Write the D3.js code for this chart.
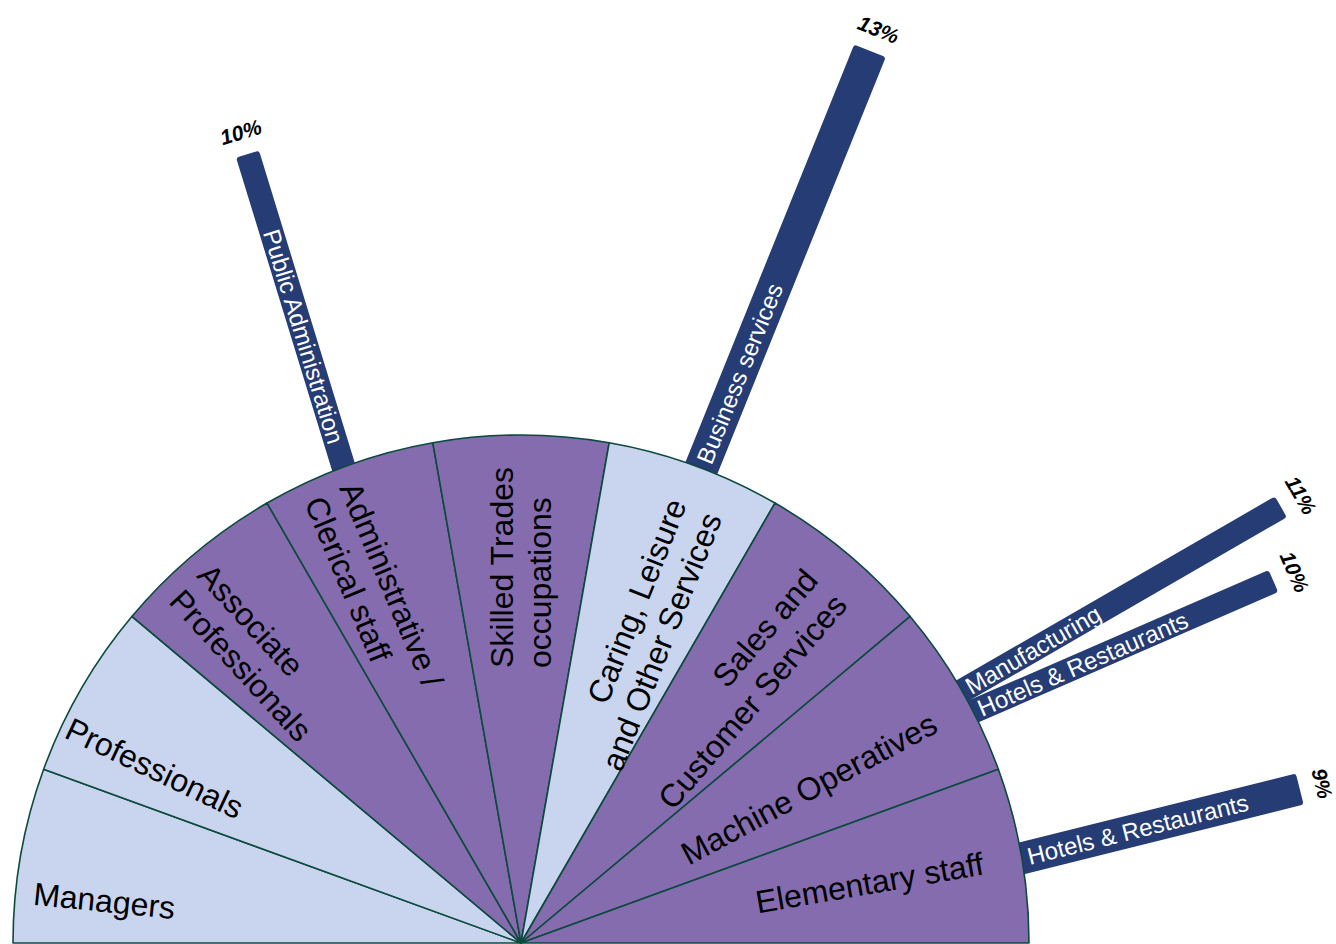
<!DOCTYPE html>
<html>
<head>
<meta charset="utf-8">
<script src="https://cdn.jsdelivr.net/npm/d3@7"></script>
<style>
  html, body { margin: 0; padding: 0; background: #ffffff; }
  svg { display: block; }
</style>
</head>
<body>
<svg id="chart" width="1336" height="944"></svg>
<script>
// Occupation groups, drawn left to right around the half circle
const occupations = [
  "Managers",
  "Professionals",
  "Associate Professionals",
  "Administrative / Clerical staff",
  "Skilled Trades occupations",
  "Caring, Leisure and Other Services",
  "Sales and Customer Services",
  "Machine Operatives",
  "Elementary staff"
];
// The same names, broken into display lines
const occupationLines = [
  ["Managers"],
  ["Professionals"],
  ["Associate", "Professionals"],
  ["Administrative /", "Clerical staff"],
  ["Skilled Trades", "occupations"],
  ["Caring, Leisure", "and Other Services"],
  ["Sales and", "Customer Services"],
  ["Machine Operatives"],
  ["Elementary staff"]
];
// Occupations shown in the lighter shade
const highlighted = ["Managers", "Professionals", "Caring, Leisure and Other Services"];

// Industry share bars sticking out of the occupations they belong to
const barOccupation = [
  "Administrative / Clerical staff",
  "Caring, Leisure and Other Services",
  "Machine Operatives",
  "Machine Operatives",
  "Elementary staff"
];
const barIndustry = ["Public Administration", "Business services", "Manufacturing", "Hotels & Restaurants", "Hotels & Restaurants"];
const barShare = [10, 13, 11, 10, 9];   // percent

// ---- layout ----
const W = 1336, H = 944;
const cx = 521, cy = 943, R = 508;
const colLight = "#c9d4ee", colDark = "#846cae", colEdge = "#0b4a3c", colBar = "#253c74";
const font = "'Liberation Sans', Arial, Helvetica, sans-serif";
const deg = Math.PI / 180;

// angular nudges (degrees) and extra outward reach (px) for each occupation label
const labelNudge = [-4.2, -4.5, -2.5, -2.7, 0, 1.7, 0.5, 1.8, 0.2];
const labelReach = [0, 12, 0, 0, 0, 0, 0, 0, 0];
// per-bar placement tweaks
const barPlace = [
  { shift: -0.45, tilt: 3.4,   thick: 24 },
  { shift: 0.8,   tilt: 1.2,   thick: 34 },
  { shift: 0.25,  tilt: -0.25, thick: 24 },
  { shift: 2.9,   tilt: 3.6,   thick: 24 },
  { shift: 0.4,   tilt: -4.4,  thick: 32 }
];

const svg = d3.select("#chart");
svg.append("rect").attr("width", W).attr("height", H).attr("fill", "#fff");
const g = svg.append("g").attr("transform", `translate(${cx},${cy})`);

const pie = d3.pie().value(1).sort(null)
  .startAngle(-Math.PI / 2).endAngle(Math.PI / 2);
const slices = pie(occupations);
const arc = d3.arc().innerRadius(0).outerRadius(R);
const midOf = name => {
  const s = slices.find(d => d.data === name);
  return (s.startAngle + s.endAngle) / 2 / deg;   // degrees, clockwise from top
};
const polar = (aDeg, r) => [r * Math.sin(aDeg * deg), -r * Math.cos(aDeg * deg)];

// bar length from the rim outwards
const len = d3.scaleLinear().domain([2, 13]).range([0, 450]);

const bars = barShare.map((v, i) => {
  const anchor = midOf(barOccupation[i]) + barPlace[i].shift;
  const dir = anchor + barPlace[i].tilt;
  return { v, i, anchor, dir, p: polar(anchor, R), L: len(v), ...barPlace[i] };
});

// bars first, so the pie rim covers their inner ends
const barG = g.append("g").selectAll("g").data(bars).join("g")
  .attr("transform", d => `translate(${d.p[0]},${d.p[1]}) rotate(${d.dir - 90})`);
barG.append("rect")
  .attr("x", -20).attr("y", d => -d.thick / 2)
  .attr("width", d => d.L + 20).attr("height", d => d.thick)
  .attr("rx", 3).attr("fill", colBar);

// half pie
g.append("g").selectAll("path").data(slices).join("path")
  .attr("d", arc)
  .attr("fill", d => highlighted.includes(d.data) ? colLight : colDark)
  .attr("stroke", colEdge).attr("stroke-width", 1.6).attr("stroke-linejoin", "round");

// occupation labels, written along the radius
const labelSize = 32, lineGap = 38;
slices.forEach((s, i) => {
  const a = (s.startAngle + s.endAngle) / 2 / deg + labelNudge[i];
  const lines = occupationLines[i];
  let rot, x, anchor;
  if (a > 0.01) { rot = a - 90; x = 469 + labelReach[i]; anchor = "end"; }
  else if (a < -0.01) { rot = a + 90; x = -490 - labelReach[i]; anchor = "start"; }
  else { rot = a - 90; x = 275; anchor = "start"; }
  const t = g.append("text")
    .attr("transform", `rotate(${rot})`)
    .attr("text-anchor", anchor)
    .attr("font-family", font).attr("font-size", labelSize).attr("fill", "#000");
  lines.forEach((ln, k) => {
    t.append("tspan").attr("x", x)
      .attr("y", (k - (lines.length - 1) / 2) * lineGap + labelSize * 0.35)
      .text(ln);
  });
});

// industry names inside the bars
barG.each(function (d) {
  const sel = d3.select(this);
  const flip = d.dir < 0;
  sel.append("text")
    .attr("transform", flip ? "rotate(180)" : null)
    .attr("x", flip ? -25 : 6)
    .attr("y", 0)
    .attr("dy", "0.35em")
    .attr("text-anchor", flip ? "end" : "start")
    .attr("font-family", font).attr("font-size", 24).attr("fill", "#fff")
    .text(barIndustry[d.i]);
  // share label past the bar end, across the bar
  sel.append("text")
    .attr("transform", `translate(${d.L + 23},0) rotate(90)`)
    .attr("dy", "0.35em")
    .attr("text-anchor", "middle")
    .attr("font-family", font).attr("font-size", 21)
    .attr("font-weight", "bold").attr("font-style", "italic").attr("fill", "#000")
    .text(d.v + "%");
});
</script>
</body>
</html>
